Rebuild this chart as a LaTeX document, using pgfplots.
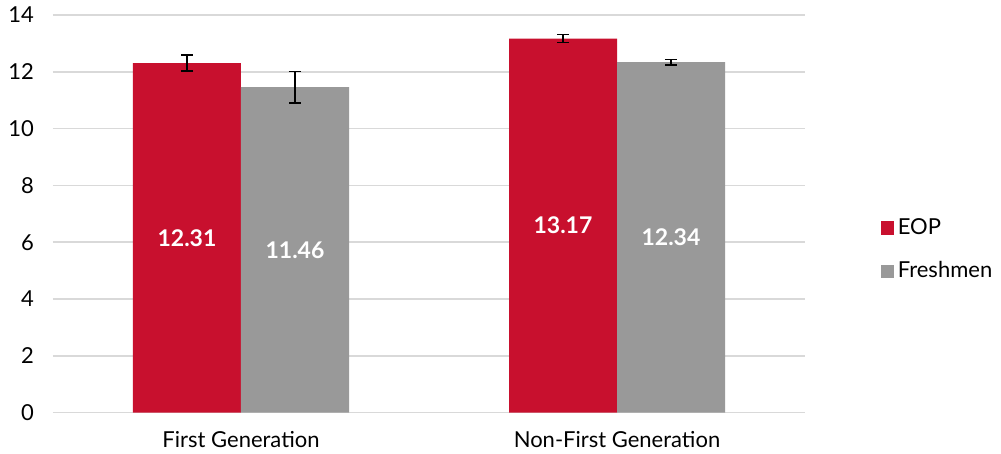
\documentclass[border=0pt]{standalone}
\usepackage{pgfplots}
\pgfplotsset{compat=1.18}
\usepackage{fontspec}
\setmainfont{Lato}
\definecolor{eopred}{RGB}{200,16,46}
\definecolor{fgray}{RGB}{153,153,153}
\definecolor{gridc}{RGB}{217,217,217}
\begin{document}
\begin{tikzpicture}
\path[use as bounding box] (-26.5pt,-20.65pt) rectangle (474pt,206.35pt);
\begin{axis}[
  at={(0,0)}, anchor=south west,
  scale only axis, width=376pt, height=198.85pt,
  xmin=-0.5, xmax=1.5, ymin=0, ymax=14,
  xtick={0,1}, xticklabels={First Generation, Non-First Generation},
  ytick={0,2,...,14},
  ymajorgrids, grid style={gridc, line width=0.8pt},
  axis line style={draw=none},
  major tick style={draw=none},
  /pgf/number format/assume math mode=true,
  tick label style={font=\fontsize{11}{13}\selectfont, black},
  yticklabel style={xshift=-6pt},
  xticklabel style={yshift=-6pt},
  legend style={draw=none, fill=none, at={(1.10,0.41)}, anchor=west,
    font=\fontsize{11}{13}\selectfont, row sep=8pt, inner sep=0pt},
  legend cell align=left,
  legend image code/.code={\fill[#1] (0pt,-3.3pt) rectangle (6.6pt,3.3pt);},
]
\addplot[ybar, bar width=54pt, bar shift=-27pt, fill=eopred, draw=none]
  coordinates {(0,12.31) (1,13.17)};
\addlegendentry{EOP}
\addplot[ybar, bar width=54pt, bar shift=27pt, fill=fgray, draw=none]
  coordinates {(0,11.46) (1,12.34)};
\addlegendentry{Freshmen}
\addplot[forget plot, draw=none, mark=none,
  error bars/.cd, y dir=both, y explicit,
  error bar style={black, line width=0.9pt},
  error mark options={black, rotate=90, mark size=3pt, line width=0.9pt}]
  coordinates {(-0.1436,12.31) +- (0,0.27) (0.8564,13.17) +- (0,0.14)
               (0.1436,11.46) +- (0,0.55) (1.1436,12.34) +- (0,0.09)};
\addplot[forget plot, draw=none, mark=none, nodes near coords,
  point meta=explicit symbolic,
  every node near coord/.style={anchor=center, text=white, font=\fontsize{11.5}{13}\selectfont\bfseries}]
  coordinates {(-0.1436,6.155)[12.31] (0.1436,5.73)[11.46] (0.8564,6.585)[13.17] (1.1436,6.17)[12.34]};
\end{axis}
\end{tikzpicture}
\end{document}
